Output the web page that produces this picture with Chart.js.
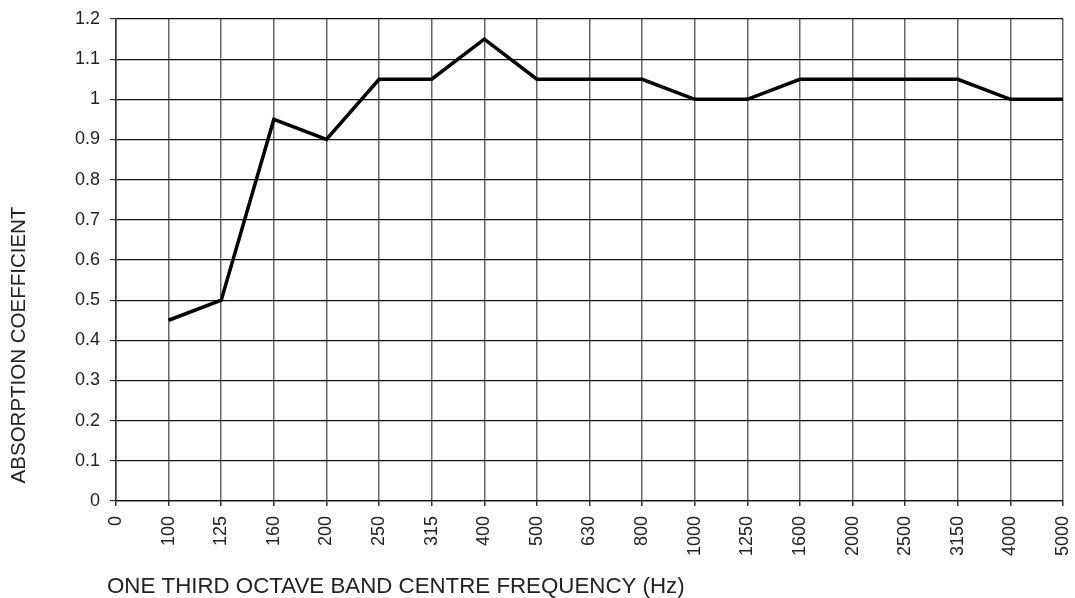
<!DOCTYPE html>
<html>
<head>
<meta charset="utf-8">
<script src="https://cdn.jsdelivr.net/npm/chart.js@4/dist/chart.umd.min.js"></script>
<style>
html,body{margin:0;padding:0;background:#fff;}
#wrap{width:1075px;height:598px;position:relative;}
</style>
</head>
<body>
<div id="wrap"><canvas id="c" width="1075" height="598"></canvas></div>
<script>
const categories = ['0','100','125','160','200','250','315','400','500','630','800','1000','1250','1600','2000','2500','3150','4000','5000'];
const absorption = [null,0.45,0.5,0.95,0.9,1.05,1.05,1.15,1.05,1.05,1.05,1.0,1.0,1.05,1.05,1.05,1.05,1.0,1.0];
const yMin = 0, yMax = 1.2, yStep = 0.1;
const xTitle = 'ONE THIRD OCTAVE BAND CENTRE FREQUENCY (Hz)';
const yTitle = 'ABSORPTION COEFFICIENT';

const FONT = "'Liberation Sans', Arial, sans-serif";

const titlesPlugin = {
  id: 'titlesPlugin',
  afterDraw(chart) {
    const ctx = chart.ctx;
    ctx.save();
    ctx.fillStyle = '#222';
    ctx.font = "22.3px " + FONT;
    ctx.textAlign = 'left';
    ctx.textBaseline = 'middle';
    ctx.fillText(xTitle, 107, 587);
    ctx.translate(19, 345);
    ctx.rotate(-Math.PI / 2);
    ctx.font = "20.5px " + FONT;
    ctx.textAlign = 'center';
    ctx.fillText(yTitle, 0, 0);
    ctx.restore();
  }
};

new Chart(document.getElementById('c'), {
  type: 'line',
  data: {
    labels: categories,
    datasets: [{
      data: absorption,
      borderColor: '#000',
      borderWidth: 3.5,
      pointRadius: 0,
      fill: false,
      tension: 0,
      spanGaps: false
    }]
  },
  options: {
    responsive: false,
    animation: false,
    layout: { padding: { left: 0, right: 12, top: 19, bottom: 0 } },
    plugins: { legend: { display: false }, tooltip: { enabled: false } },
    scales: {
      x: {
        offset: false,
        grid: { color: '#666', lineWidth: 1.5, tickLength: 5, tickColor: '#333', drawOnChartArea: true },
        border: { color: '#111', width: 1.2 },
        ticks: {
          autoSkip: false, maxRotation: 90, minRotation: 90,
          color: '#222', font: { family: FONT, size: 18 }, padding: 10
        },
        title: { display: false, text: xTitle },
        afterFit: (s) => { s.height = 97; s.paddingLeft = 0; s.paddingRight = 0; }
      },
      y: {
        min: yMin, max: yMax,
        grid: { color: '#111', lineWidth: 1.2, tickLength: 6, tickColor: '#333' },
        border: { color: '#333', width: 1.5 },
        ticks: {
          stepSize: yStep, color: '#222', font: { family: FONT, size: 18 }, padding: 10,
          callback: (v) => String(Number(v.toFixed(1)))
        },
        title: { display: false, text: yTitle },
        afterFit: (s) => { s.width = 116; s.paddingTop = 0; s.paddingBottom = 0; }
      }
    }
  },
  plugins: [titlesPlugin]
});
</script>
</body>
</html>
